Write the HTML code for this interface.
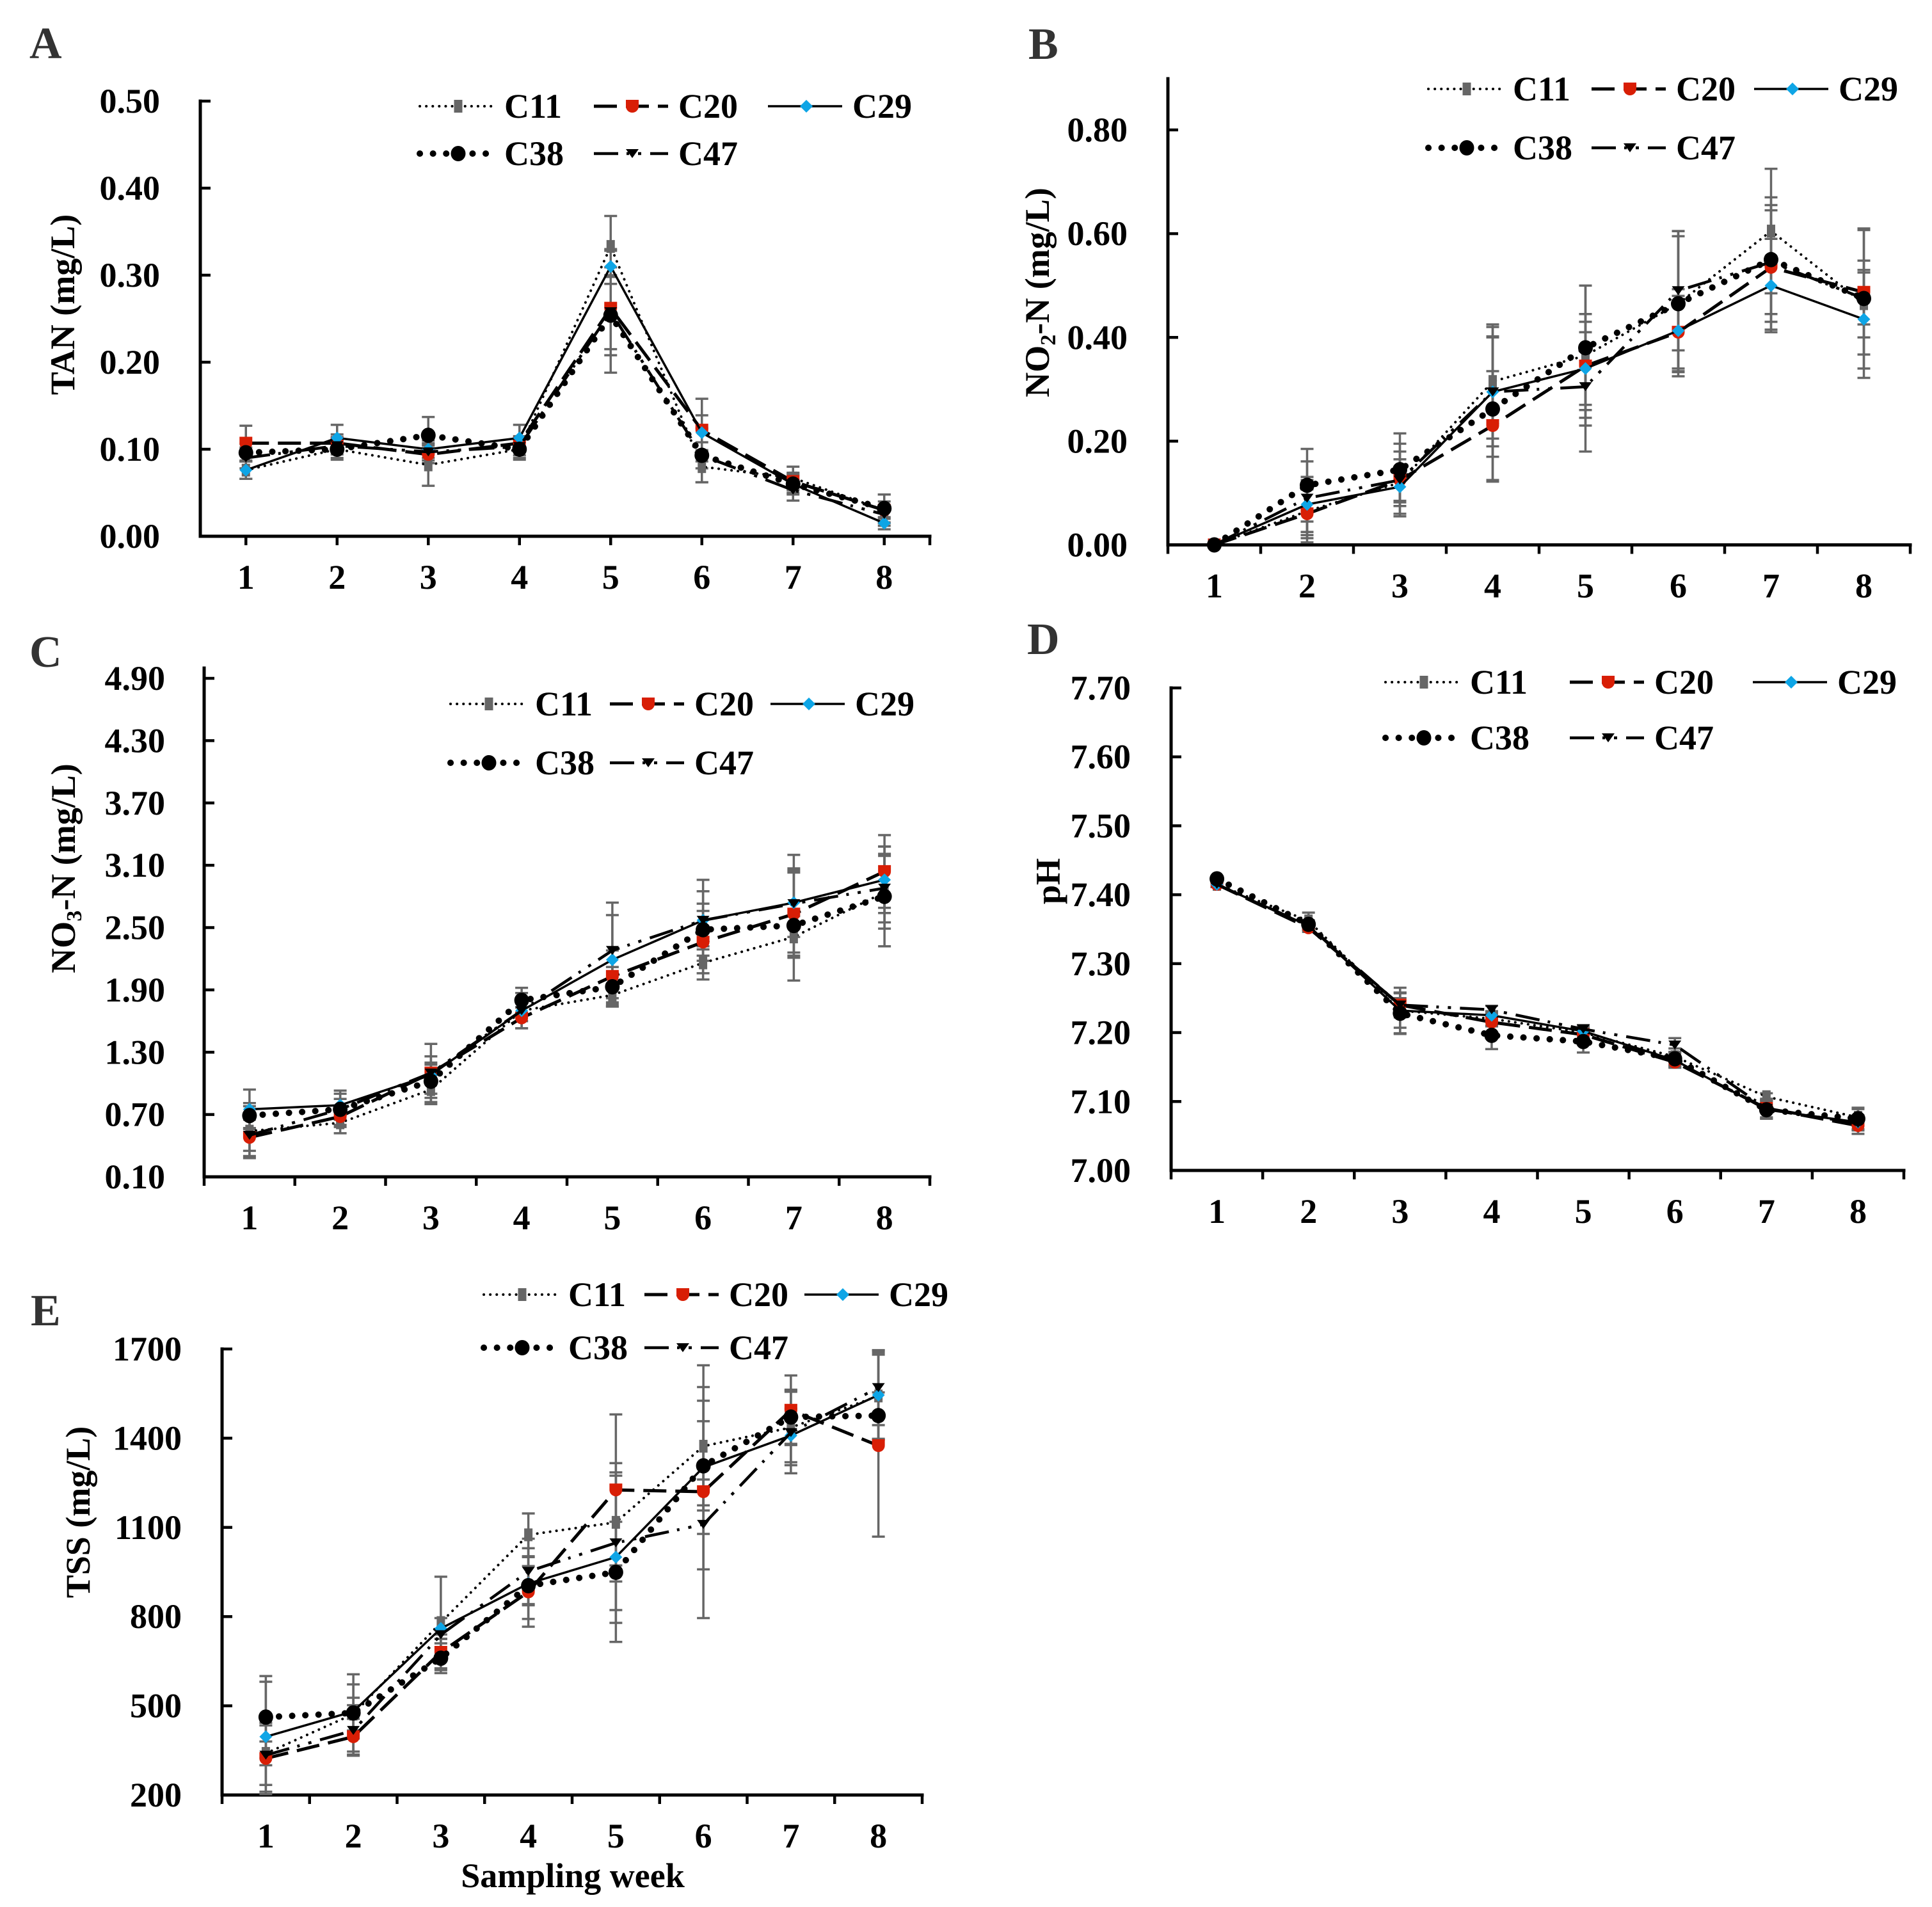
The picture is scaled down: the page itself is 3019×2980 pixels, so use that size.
<!DOCTYPE html>
<html lang="en">
<head>
<meta charset="utf-8">
<title>Water quality by sampling week</title>
<style>
html,body{margin:0;padding:0;background:#fff;}
svg{display:block;}
text{font-family:"Liberation Serif","Times New Roman",serif;font-weight:bold;fill:#000;}
.letter{font-size:70px;fill:#333;}
.title{font-size:54px;}
</style>
</head>
<body>
<svg id="figure" xmlns="http://www.w3.org/2000/svg" width="3019" height="2980" viewBox="0 0 3019 2980">
<rect width="3019" height="2980" fill="#fff"/>
<text class="letter" x="46" y="91">A</text>
<text class="letter" x="1607" y="92">B</text>
<text class="letter" x="46" y="1042">C</text>
<text class="letter" x="1605" y="1022">D</text>
<text class="letter" x="48" y="2071">E</text>
<text class="title" text-anchor="middle" transform="translate(116 476) rotate(-90)">TAN (mg/L)</text>
<text class="title" text-anchor="middle" transform="translate(1639 457) rotate(-90)">NO<tspan font-size="34" dy="10">2</tspan><tspan dy="-10">-N (mg/L)</tspan></text>
<text class="title" text-anchor="middle" transform="translate(117 1357) rotate(-90)">NO<tspan font-size="34" dy="10">3</tspan><tspan dy="-10">-N (mg/L)</tspan></text>
<text class="title" text-anchor="middle" transform="translate(1656 1377) rotate(-90)">pH</text>
<text class="title" text-anchor="middle" transform="translate(140 2363) rotate(-90)">TSS (mg/L)</text>
<text class="title" text-anchor="middle" x="895" y="2949">Sampling week</text>
</svg>
<script>
const weeks = ['1','2','3','4','5','6','7','8'];
const seriesNames = ['C11','C20','C29','C38','C47'];

const tanTicks = ['0.00','0.10','0.20','0.30','0.40','0.50'];
const tanC11 = [0.076,0.100,0.082,0.100,0.333,0.080,0.067,0.030];
const tanC20 = [0.107,0.107,0.094,0.107,0.262,0.122,0.063,0.030];
const tanC29 = [0.076,0.113,0.100,0.113,0.310,0.119,0.060,0.015];
const tanC38 = [0.096,0.100,0.116,0.100,0.254,0.093,0.060,0.032];
const tanC47 = [0.090,0.104,0.097,0.103,0.258,0.093,0.053,0.025];
const tanErrC11 = [0.010,0.012,0.024,0.012,0.035,0.018,0.013,0.018];
const tanErrC20 = [0.020,0.010,0.010,0.008,0.047,0.036,0.010,0.010];
const tanErrC29 = [0.010,0.015,0.010,0.015,0.020,0.020,0.010,0.007];
const tanErrC38 = [0.010,0.010,0.021,0.010,0.046,0.031,0.012,0.016];
const tanErrC47 = [0.012,0.010,0.010,0.010,0.070,0.015,0.012,0.010];

const no2Ticks = ['0.00','0.20','0.40','0.60','0.80'];
const no2C11 = [0,0.065,0.120,0.315,0.365,0.465,0.605,0.465];
const no2C20 = [0,0.060,0.125,0.230,0.345,0.410,0.535,0.487];
const no2C29 = [0,0.078,0.112,0.295,0.340,0.413,0.500,0.435];
const no2C38 = [0,0.115,0.145,0.262,0.380,0.465,0.550,0.475];
const no2C47 = [0,0.090,0.125,0.295,0.305,0.490,0.545,0.475];
const no2ErrC11 = [0,0.060,0.060,0.110,0.135,0.140,0.120,0.065];
const no2ErrC20 = [0,0.047,0.070,0.105,0.100,0.070,0.120,0.120];
const no2ErrC29 = [0,0.053,0.030,0.125,0.070,0.080,0.090,0.113];
const no2ErrC38 = [0,0.070,0.070,0.140,0.120,0.130,0.120,0.135];
const no2ErrC47 = [0,0.071,0.040,0.105,0.125,0.115,0.100,0.050];

const no3Ticks = ['0.10','0.70','1.30','1.90','2.50','3.10','3.70','4.30','4.90'];
const no3C11 = [0.54,0.62,0.94,1.70,1.85,2.16,2.41,2.84];
const no3C20 = [0.48,0.68,1.10,1.63,2.03,2.36,2.63,3.04];
const no3C29 = [0.75,0.79,1.08,1.70,2.19,2.57,2.74,2.96];
const no3C38 = [0.69,0.75,1.02,1.80,1.93,2.48,2.52,2.80];
const no3C47 = [0.50,0.75,1.10,1.70,2.28,2.57,2.73,2.88];
const no3ErrC11 = [0.24,0.10,0.14,0.10,0.11,0.16,0.20,0.35];
const no3ErrC20 = [0.20,0.10,0.10,0.10,0.25,0.30,0.40,0.35];
const no3ErrC29 = [0.19,0.14,0.18,0.17,0.43,0.39,0.33,0.32];
const no3ErrC38 = [0.12,0.15,0.16,0.12,0.19,0.25,0.53,0.48];
const no3ErrC47 = [0.15,0.10,0.28,0.10,0.46,0.28,0.47,0.33];

const phTicks = ['7.00','7.10','7.20','7.30','7.40','7.50','7.60','7.70'];
const phC11 = [7.415,7.362,7.232,7.220,7.200,7.165,7.107,7.077];
const phC20 = [7.415,7.352,7.240,7.215,7.197,7.157,7.090,7.065];
const phC29 = [7.415,7.355,7.232,7.225,7.202,7.160,7.088,7.070];
const phC38 = [7.423,7.357,7.228,7.196,7.187,7.162,7.088,7.075];
const phC47 = [7.415,7.355,7.240,7.233,7.205,7.182,7.090,7.068];
const phErrC11 = [0.004,0.012,0.033,0.010,0.008,0.012,0.005,0.012];
const phErrC20 = [0.004,0.006,0.010,0.006,0.008,0.008,0.014,0.012];
const phErrC29 = [0.004,0.006,0.025,0.006,0.006,0.010,0.013,0.010];
const phErrC38 = [0.004,0.006,0.030,0.020,0.016,0.010,0.013,0.016];
const phErrC47 = [0.004,0.006,0.018,0.006,0.006,0.010,0.013,0.010];

const tssTicks = ['200','500','800','1100','1400','1700'];
const tssC11 = [340,472,780,1075,1117,1373,1436,1542];
const tssC20 = [323,396,680,883,1226,1220,1494,1375];
const tssC29 = [396,481,760,911,1000,1302,1409,1545];
const tssC38 = [462,476,660,904,949,1307,1471,1476];
const tssC47 = [334,417,739,952,1048,1110,1419,1570];
const tssErrC11 = [40,55,154,72,199,199,127,146];
const tssErrC20 = [120,60,60,117,254,425,117,306];
const tssErrC29 = [185,91,35,119,285,224,90,150];
const tssErrC38 = [138,130,50,66,170,150,90,78];
const tssErrC47 = [100,85,14,110,226,151,137,126];

const panels = [
  {key:'a', x0:313, x1:1453, yBottom:838, yMax:158, yTop:158, tickOffset:63, labels:tanTicks, centerTicks:true,
   legendX:[656,928,1200], legendY:[166,240],
   values:[tanC11,tanC20,tanC29,tanC38,tanC47], errors:[tanErrC11,tanErrC20,tanErrC29,tanErrC38,tanErrC47]},
  {key:'b', x0:1825, x1:2985, yBottom:851.5, yMax:203, yTop:123, tickOffset:63, labels:no2Ticks, centerTicks:false,
   legendX:[2232,2487,2741], legendY:[139,231],
   values:[no2C11,no2C20,no2C29,no2C38,no2C47], errors:[no2ErrC11,no2ErrC20,no2ErrC29,no2ErrC38,no2ErrC47]},
  {key:'c', x0:319, x1:1453, yBottom:1839, yMax:1060, yTop:1044, tickOffset:61, labels:no3Ticks, centerTicks:false,
   legendX:[704,953,1204], legendY:[1100,1192],
   values:[no3C11,no3C20,no3C29,no3C38,no3C47], errors:[no3ErrC11,no3ErrC20,no3ErrC29,no3ErrC38,no3ErrC47]},
  {key:'d', x0:1830, x1:2975, yBottom:1829, yMax:1075, yTop:1075, tickOffset:63, labels:phTicks, centerTicks:false,
   legendX:[2165,2453,2739], legendY:[1066,1153],
   values:[phC11,phC20,phC29,phC38,phC47], errors:[phErrC11,phErrC20,phErrC29,phErrC38,phErrC47]},
  {key:'e', x0:347, x1:1441, yBottom:2805, yMax:2108, yTop:2108, tickOffset:63, labels:tssTicks, centerTicks:false,
   legendX:[756,1007,1257], legendY:[2023,2106],
   values:[tssC11,tssC20,tssC29,tssC38,tssC47], errors:[tssErrC11,tssErrC20,tssErrC29,tssErrC38,tssErrC47]}
];

const lineStyles = [
  {width:4, dash:'0.1 10', cap:'round'},
  {width:5, dash:'36 14', cap:'butt'},
  {width:3.5, dash:'', cap:'butt'},
  {width:10, dash:'0.1 20.5', cap:'round'},
  {width:4.5, dash:'38 13 4 14 5 14', cap:'butt'}
];

const NS = 'http://www.w3.org/2000/svg';
const root = document.getElementById('figure');

function make(parent, tag, attrs, text) {
  const node = document.createElementNS(NS, tag);
  for (const k in attrs) node.setAttribute(k, attrs[k]);
  if (text !== undefined) node.textContent = text;
  parent.appendChild(node);
  return node;
}

function drawMarker(parent, seriesIndex, cx, cy, label) {
  let el;
  if (seriesIndex === 0) {
    el = make(parent, 'rect', {x:cx-6.5, y:cy-10, width:13, height:20, fill:'#666'});
  } else if (seriesIndex === 1) {
    el = make(parent, 'path', {d:'M'+(cx-10)+' '+(cy-10)+'h20v10a10 10 0 0 1 -20 0z', fill:'#d81e05'});
  } else if (seriesIndex === 2) {
    el = make(parent, 'path', {d:'M'+cx+' '+(cy-10)+'l10 10l-10 10l-10 -10z', fill:'#0ea5e6'});
  } else if (seriesIndex === 3) {
    el = make(parent, 'ellipse', {cx:cx, cy:cy, rx:11.5, ry:12, fill:'#000'});
  } else {
    el = make(parent, 'path', {d:'M'+(cx-10)+' '+(cy-7)+'h20l-10 14z', fill:'#000'});
  }
  
  
  return el;
}

function drawPanel(p) {
  const group = make(root, 'g', {});
  
  

  const band = (p.x1 - p.x0) / weeks.length;
  const xScale = i => p.x0 + (i + 0.5) * band;
  const vMin = parseFloat(p.labels[0]);
  const vMax = parseFloat(p.labels[p.labels.length - 1]);
  const yScale = v => p.yBottom - (v - vMin) / (vMax - vMin) * (p.yBottom - p.yMax);

  // axes
  const yAxis = make(group, 'line', {x1:p.x0, x2:p.x0, y1:p.yTop - 2.5, y2:p.yBottom + 2.5, stroke:'#000', 'stroke-width':5});
  
  
  const xAxis = make(group, 'line', {x1:p.x0 - 2.5, x2:p.x1 + 2.5, y1:p.yBottom, y2:p.yBottom, stroke:'#000', 'stroke-width':5});
  
  

  p.labels.forEach(lab => {
    const y = yScale(parseFloat(lab));
    const tick = make(group, 'line', {x1:p.x0, x2:p.x0 + 16, y1:y, y2:y, stroke:'#000', 'stroke-width':4.5});
    
    
    const t = make(group, 'text', {x:p.x0 - p.tickOffset, y:y + 18, 'text-anchor':'end', 'font-size':54}, lab);
    
    
  });

  const xTickPositions = [];
  if (p.centerTicks) {
    weeks.forEach((w, i) => xTickPositions.push(xScale(i)));
    xTickPositions.push(p.x1);
  } else {
    for (let i = 0; i <= weeks.length; i++) xTickPositions.push(p.x0 + i * band);
  }
  xTickPositions.forEach(x => {
    const tick = make(group, 'line', {x1:x, x2:x, y1:p.yBottom, y2:p.yBottom + 14, stroke:'#000', 'stroke-width':4.5});
    
    
  });
  weeks.forEach((w, i) => {
    const t = make(group, 'text', {x:xScale(i), y:p.yBottom + 82, 'text-anchor':'middle', 'font-size':54}, w);
    
    
  });

  // error bars below all series
  p.values.forEach((vals, s) => {
    vals.forEach((v, i) => {
      const e = p.errors[s][i];
      if (!e) return;
      const x = xScale(i);
      const bar = make(group, 'path', {
        d:'M'+x+' '+yScale(v+e)+'V'+yScale(v-e)+'M'+(x-10)+' '+yScale(v+e)+'h20M'+(x-10)+' '+yScale(v-e)+'h20',
        stroke:'#666', 'stroke-width':3.5, fill:'none'
      });
      
      
    });
  });

  // series
  p.values.forEach((vals, s) => {
    const st = lineStyles[s];
    const pts = vals.map((v, i) => xScale(i) + ',' + yScale(v)).join(' ');
    const line = make(group, 'polyline', {points:pts, fill:'none', stroke:'#000', 'stroke-width':st.width, 'stroke-dasharray':st.dash, 'stroke-linecap':st.cap});
    
    
    vals.forEach((v, i) => {
      drawMarker(group, s, xScale(i), yScale(v), 'point-' + seriesNames[s].toLowerCase());
    });
  });

  // legend
  const legend = make(group, 'g', {});
  
  
  seriesNames.forEach((name, s) => {
    const col = s < 3 ? s : s - 3;
    const row = s < 3 ? 0 : 1;
    const lx = p.legendX[col];
    const ly = p.legendY[row];
    const entry = make(legend, 'g', {});
    
    
    const st = lineStyles[s];
    const sample = make(entry, 'line', {x1:lx, x2:lx + 116, y1:ly, y2:ly, stroke:'#000', 'stroke-width':st.width, 'stroke-dasharray':st.dash, 'stroke-linecap':st.cap});
    
    
    drawMarker(entry, s, lx + 60, ly, 'legend-marker');
    const t = make(entry, 'text', {x:lx + 132, y:ly + 18, 'font-size':54}, name);
    
    
  });
}

panels.forEach(drawPanel);
</script>
</body>
</html>
